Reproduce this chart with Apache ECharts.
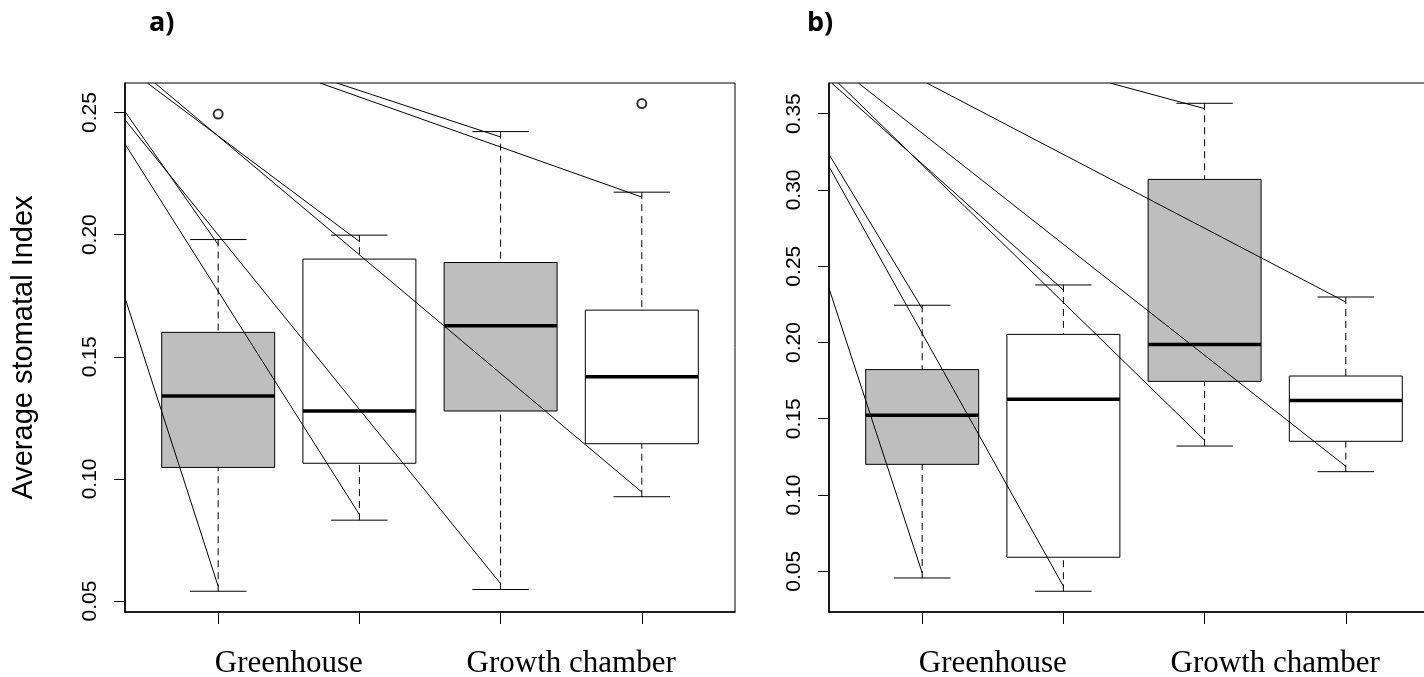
<!DOCTYPE html>
<html>
<head>
<meta charset="utf-8">
<title>Average stomatal index</title>
<script src="https://cdn.jsdelivr.net/npm/echarts@6/dist/echarts.min.js"></script>
<style>
  html, body { margin: 0; padding: 0; background: #ffffff; }
  #chart { width: 1424px; height: 677px; }
</style>
</head>
<body>
<div id="chart"></div>
<script>
// Growing environment shown under each pair of boxes
const siteLabels = ['Greenhouse', 'Growth chamber'];
// Box positions along the x axis (two boxes per environment)
const boxSlots = [1, 2, 3, 4];

// Panel a) five-number summaries
const aLower  = [0.0540, 0.0831, 0.0547, 0.0927];
const aQ1     = [0.1047, 0.1064, 0.1278, 0.1144];
const aMedian = [0.1339, 0.1278, 0.1627, 0.1418];
const aQ3     = [0.1600, 0.1900, 0.1886, 0.1691];
const aUpper  = [0.1980, 0.1998, 0.2422, 0.2174];
const aOutliers = [[1, 0.2494], [4, 0.2537]];

// Panel b) five-number summaries
const bLower  = [0.0456, 0.0369, 0.1321, 0.1153];
const bQ1     = [0.1201, 0.0592, 0.1745, 0.1352];
const bMedian = [0.1523, 0.1627, 0.1986, 0.1619];
const bQ3     = [0.1822, 0.2053, 0.3069, 0.1780];
const bUpper  = [0.2244, 0.2377, 0.3568, 0.2298];
const bOutliers = [];

// Straight strokes running into the whisker ends: [x0, y0, x1, y1] in axis units
const aStrokes = [
  [0.340, 0.1741, 1, 0.0560],
  [0.340, 0.2504, 1, 0.1959],
  [0.340, 0.2371, 2, 0.0854],
  [0.498, 0.2621, 2, 0.1972],
  [0.340, 0.2470, 3, 0.0571],
  [1.839, 0.2621, 3, 0.2400],
  [0.552, 0.2621, 4, 0.0946],
  [1.721, 0.2621, 4, 0.2154]
];
const bStrokes = [
  [0.340, 0.2355, 1, 0.0489],
  [0.340, 0.3233, 1, 0.2222],
  [0.340, 0.3153, 2, 0.0402],
  [0.359, 0.3701, 2, 0.2344],
  [0.406, 0.3701, 3, 0.1359],
  [2.330, 0.3701, 3, 0.3533],
  [0.548, 0.3701, 4, 0.1188],
  [1.032, 0.3701, 4, 0.2265]
];

// Axis ranges and tick values
const xRange = [0.34, 4.66];
const aYRange = [0.0455, 0.2621];
const bYRange = [0.0233, 0.3701];
const aYTicks = [0.05, 0.10, 0.15, 0.20, 0.25];
const bYTicks = [0.05, 0.10, 0.15, 0.20, 0.25, 0.30, 0.35];
const siteTickValues = [1.5, 3.5];

const boxFills = ['#bebebe', '#ffffff', '#bebebe', '#ffffff'];

function boxRows(lo, q1, med, q3, hi) {
  return boxSlots.map((x, i) => [x, lo[i], q1[i], med[i], q3[i], hi[i]]);
}

function renderBox(params, api) {
  const x = api.value(0);
  const lo = api.value(1), q1 = api.value(2), med = api.value(3), q3 = api.value(4), hi = api.value(5);
  const cx = api.coord([x, med])[0];
  const bx0 = api.coord([x - 0.4, med])[0];
  const bx1 = api.coord([x + 0.4, med])[0];
  const cap0 = api.coord([x - 0.2, med])[0];
  const cap1 = api.coord([x + 0.2, med])[0];
  const yLo = api.coord([x, lo])[1];
  const yQ1 = api.coord([x, q1])[1];
  const yMed = api.coord([x, med])[1];
  const yQ3 = api.coord([x, q3])[1];
  const yHi = api.coord([x, hi])[1];
  const thin = { stroke: '#000', lineWidth: 1 };
  const dashed = { stroke: '#000', lineWidth: 1, lineDash: [7, 5] };
  return {
    type: 'group',
    children: [
      { type: 'line', shape: { x1: cx, y1: yHi, x2: cx, y2: yQ3 }, style: dashed },
      { type: 'line', shape: { x1: cx, y1: yLo, x2: cx, y2: yQ1 }, style: dashed },
      { type: 'line', shape: { x1: cap0, y1: yHi, x2: cap1, y2: yHi }, style: thin },
      { type: 'line', shape: { x1: cap0, y1: yLo, x2: cap1, y2: yLo }, style: thin },
      { type: 'rect', shape: { x: bx0, y: yQ3, width: bx1 - bx0, height: yQ1 - yQ3 },
        style: { fill: boxFills[params.dataIndex], stroke: '#000', lineWidth: 1 } },
      { type: 'line', shape: { x1: bx0, y1: yMed, x2: bx1, y2: yMed }, style: { stroke: '#000', lineWidth: 3.5 } }
    ]
  };
}

function renderStroke(params, api) {
  const p0 = api.coord([api.value(0), api.value(1)]);
  const p1 = api.coord([api.value(2), api.value(3)]);
  return {
    type: 'line',
    shape: { x1: p0[0], y1: p0[1], x2: p1[0], y2: p1[1] },
    style: { stroke: '#000', lineWidth: 1 }
  };
}

const grids = [
  { left: 125, top: 83, width: 610, height: 529 },
  { left: 829, top: 83, width: 610, height: 529 }
].map(g => Object.assign(g, {
  show: true, borderColor: '#000', borderWidth: 1, backgroundColor: 'transparent',
  outerBoundsMode: 'none', containLabel: false
}));

function xAxisFor(i) {
  return {
    type: 'value', gridIndex: i, min: xRange[0], max: xRange[1],
    splitLine: { show: false },
    axisLine: { show: true, onZero: false, lineStyle: { color: '#000', width: 1.6 } },
    axisTick: { show: true, customValues: boxSlots, length: 12, lineStyle: { color: '#000', width: 1 } },
    axisLabel: {
      show: true, customValues: siteTickValues, margin: 36,
      formatter: v => siteLabels[Math.round((v - 1.5) / 2)],
      fontFamily: 'Liberation Serif', fontSize: 31, color: '#000'
    }
  };
}

function yAxisFor(i, range, ticks, name) {
  return {
    type: 'value', gridIndex: i, min: range[0], max: range[1],
    splitLine: { show: false },
    axisLine: { show: true, onZero: false, lineStyle: { color: '#000', width: 1.6 } },
    axisTick: { show: true, customValues: ticks, length: 11, lineStyle: { color: '#000', width: 1 } },
    axisLabel: {
      show: true, customValues: ticks, rotate: 90, margin: 24,
      formatter: v => v.toFixed(2),
      fontFamily: 'Liberation Sans', fontSize: 21, color: '#000'
    },
    name: name, nameLocation: 'middle', nameRotate: 90, nameGap: 87,
    nameTextStyle: { fontFamily: 'Liberation Sans', fontSize: 29, color: '#000' }
  };
}

const option = {
  animation: false,
  backgroundColor: '#ffffff',
  title: [
    { text: 'a)', left: 149, top: 10, padding: 0,
      textStyle: { fontFamily: 'Open Sans', fontWeight: 'bold', fontSize: 27, color: '#000' } },
    { text: 'b)', left: 807, top: 10, padding: 0,
      textStyle: { fontFamily: 'Open Sans', fontWeight: 'bold', fontSize: 27, color: '#000' } }
  ],
  grid: grids,
  xAxis: [xAxisFor(0), xAxisFor(1)],
  yAxis: [
    yAxisFor(0, aYRange, aYTicks, 'Average stomatal Index'),
    yAxisFor(1, bYRange, bYTicks, '')
  ],
  series: [
    { type: 'custom', xAxisIndex: 0, yAxisIndex: 0, renderItem: renderBox,
      data: boxRows(aLower, aQ1, aMedian, aQ3, aUpper), encode: { x: 0, y: [1, 2, 3, 4, 5] }, z: 2 },
    { type: 'custom', xAxisIndex: 1, yAxisIndex: 1, renderItem: renderBox,
      data: boxRows(bLower, bQ1, bMedian, bQ3, bUpper), encode: { x: 0, y: [1, 2, 3, 4, 5] }, z: 2 },
    { type: 'custom', xAxisIndex: 0, yAxisIndex: 0, renderItem: renderStroke, clip: true,
      data: aStrokes, encode: { x: [0, 2], y: [1, 3] }, z: 3 },
    { type: 'custom', xAxisIndex: 1, yAxisIndex: 1, renderItem: renderStroke, clip: true,
      data: bStrokes, encode: { x: [0, 2], y: [1, 3] }, z: 3 },
    { type: 'scatter', xAxisIndex: 0, yAxisIndex: 0, data: aOutliers,
      symbol: 'emptyCircle', symbolSize: 9, itemStyle: { color: '#000', borderWidth: 1 }, z: 4 },
    { type: 'scatter', xAxisIndex: 1, yAxisIndex: 1, data: bOutliers,
      symbol: 'emptyCircle', symbolSize: 9, itemStyle: { color: '#000', borderWidth: 1 }, z: 4 }
  ]
};

const chart = echarts.init(document.getElementById('chart'), null, { renderer: 'canvas' });
chart.setOption(option);
</script>
</body>
</html>
